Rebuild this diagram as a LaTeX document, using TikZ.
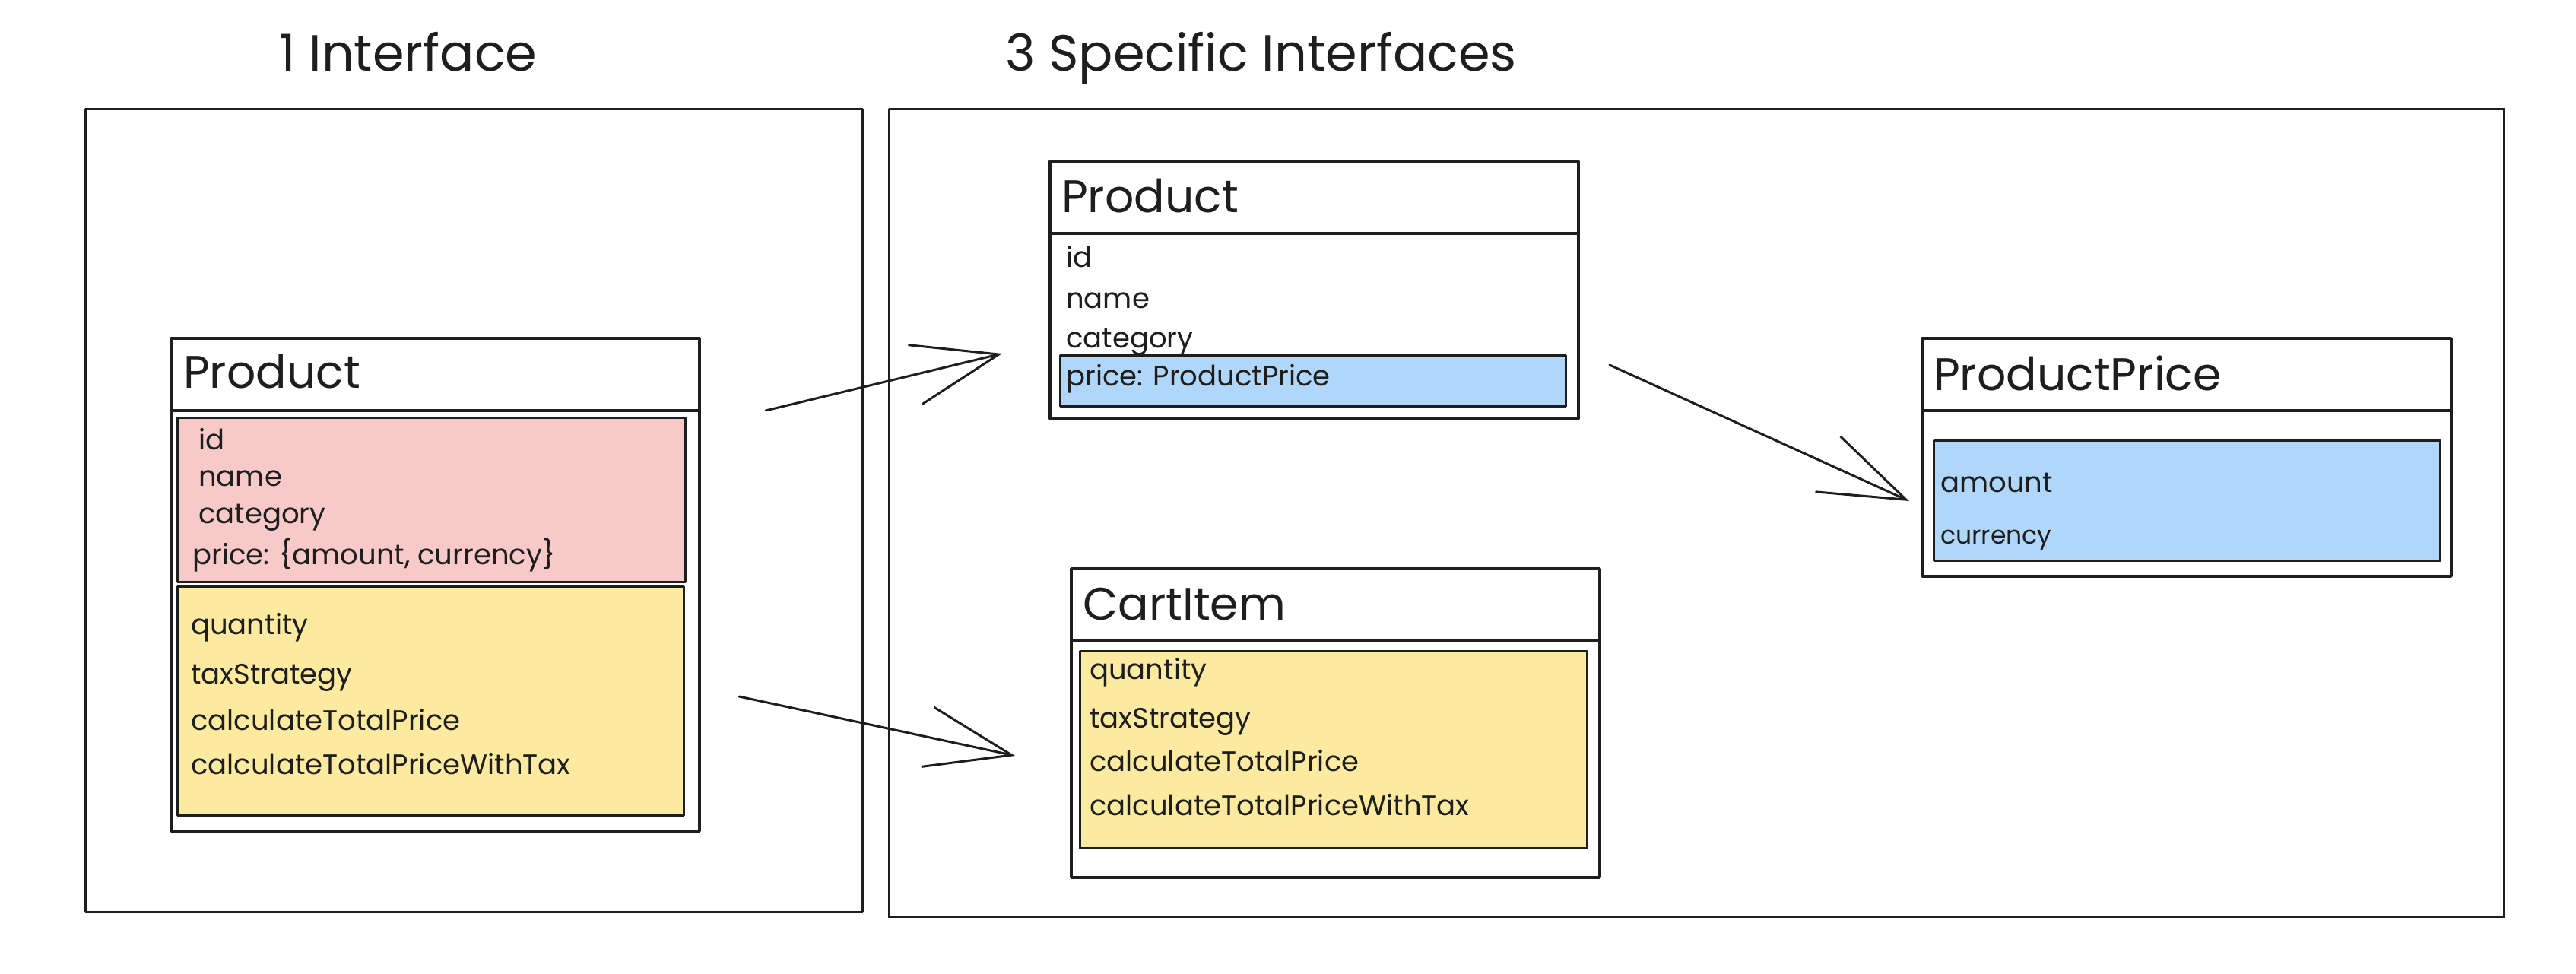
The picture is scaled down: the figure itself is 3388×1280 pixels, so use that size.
\documentclass[tikz,border=0pt]{standalone}
\usepackage{fontspec}
\setmainfont{Poppins}
\usetikzlibrary{arrows.meta}
\definecolor{ink}{HTML}{1E1E1E}
\definecolor{pinkfill}{HTML}{F7C9C9}
\definecolor{yellowfill}{HTML}{FBEAA0}
\definecolor{bluefill}{HTML}{B0D7FA}
\begin{document}
\begin{tikzpicture}[x=1pt,y=-1pt,line cap=round,line join=round,
  frame/.style={draw=ink,line width=3pt,inner sep=0pt,outer sep=0pt,anchor=north west},
  classpart/.style={draw=ink,line width=3.5pt,fill=white,inner sep=0pt,outer sep=0pt,anchor=north west,minimum width=695pt},
  fieldbox/.style={draw=ink,line width=3pt,inner sep=0pt,outer sep=0pt,anchor=north west},
  sectitle/.style={anchor=west,inner sep=0pt,font=\fontsize{67}{67}\selectfont,text height=0.75em,text depth=0.25em,text=ink},
  classtitle/.style={anchor=west,inner sep=0pt,font=\fontsize{60}{60}\selectfont,text height=0.75em,text depth=0.25em,text=ink},
  member/.style={anchor=west,inner sep=0pt,font=\fontsize{37}{37}\selectfont,text height=0.75em,text depth=0.25em,text=ink},
  smallmember/.style={member,font=\fontsize{33}{33}\selectfont},
  link/.style={draw=ink,line width=3pt,-{Straight Barb[length=113pt,width=80pt,line width=3pt]}}]
\useasboundingbox[fill=white] (0,0) rectangle (3388,1280);

% section titles
\node[sectitle] (t1) at (367,91) {1 Interface};
\node[sectitle] (t2) at (1322,91) {3 Specific Interfaces};

% frames
\node[frame,minimum width=1022pt,minimum height=1056pt] (frameL) at (112,143) {};
\node[frame,minimum width=2124pt,minimum height=1063pt] (frameR) at (1169,143) {};

% ---- left Product
\node[classpart,minimum height=95pt] (lpH) at (225,445) {};
\node[classpart,minimum height=553pt] (lpB) at (225,540) {};
\node[classtitle] (lpT) at (241,508) {Product};
\node[fieldbox,fill=pinkfill,minimum width=668pt,minimum height=216pt] (lpPink) at (233,549) {};
\node[fieldbox,fill=yellowfill,minimum width=666pt,minimum height=301pt] (lpYel) at (233,771) {};
\node[member] (lp1) at (261,589) {id};
\node[member] (lp2) at (261,637) {name};
\node[member] (lp3) at (261,686) {category};
\node[member] (lp4) at (253,740) {price: \{amount, currency\}};
\node[member] (lp5) at (251,832) {quantity};
\node[member] (lp6) at (251,897) {taxStrategy};
\node[member] (lp7) at (251,958) {calculateTotalPrice};
\node[member] (lp8) at (251,1016) {calculateTotalPriceWithTax};

% ---- right Product
\node[classpart,minimum height=95pt] (rpH) at (1381,212) {};
\node[classpart,minimum height=244pt] (rpB) at (1381,307) {};
\node[classtitle] (rpT) at (1396,277) {Product};
\node[fieldbox,fill=bluefill,minimum width=665pt,minimum height=67pt] (rpBlue) at (1394,467) {};
\node[member] (rp1) at (1402,349) {id};
\node[member] (rp2) at (1402,403) {name};
\node[member] (rp3) at (1402,455) {category};
\node[member] (rp4) at (1402,505) {price: ProductPrice};

% ---- CartItem
\node[classpart,minimum height=95pt] (ciH) at (1409,748) {};
\node[classpart,minimum height=311pt] (ciB) at (1409,843) {};
\node[classtitle] (ciT) at (1424,813) {CartItem};
\node[fieldbox,fill=yellowfill,minimum width=667pt,minimum height=259pt] (ciYel) at (1420,856) {};
\node[member] (ci1) at (1433,891) {quantity};
\node[member] (ci2) at (1433,955) {taxStrategy};
\node[member] (ci3) at (1433,1012) {calculateTotalPrice};
\node[member] (ci4) at (1433,1070) {calculateTotalPriceWithTax};

% ---- ProductPrice
\node[classpart,minimum width=696pt,minimum height=95pt] (ppH) at (2528,445) {};
\node[classpart,minimum width=696pt,minimum height=218pt] (ppB) at (2528,540) {};
\node[classtitle] (ppT) at (2543,511) {ProductPrice};
\node[fieldbox,fill=bluefill,minimum width=666pt,minimum height=158pt] (ppBlue) at (2543,579) {};
\node[member] (pp1) at (2552,645) {amount};
\node[smallmember] (pp2) at (2552,713) {currency};

% ---- connectors
\coordinate (a1s) at (1007,540);
\coordinate (a1e) at (1318,465);
\coordinate (a2s) at (972,916);
\coordinate (a2e) at (1335,994);
\coordinate (a3s) at (2117,480);
\coordinate (a3e) at (2511,659);
\draw[link] (a1s) -- (a1e);
\draw[link] (a2s) -- (a2e);
\draw[link] (a3s) -- (a3e);
\end{tikzpicture}
\end{document}
